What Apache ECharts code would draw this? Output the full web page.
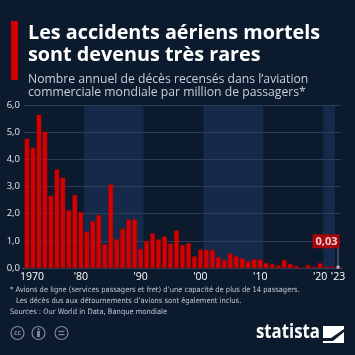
<!DOCTYPE html>
<html>
<head>
<meta charset="utf-8">
<script src="https://cdn.jsdelivr.net/npm/echarts@6/dist/echarts.min.js"></script>
<style>
html,body{margin:0;padding:0;background:#0c1a2e;}
#c{width:355px;height:355px;}
</style>
</head>
<body>
<div id="c"></div>
<script>
// Years shown (first bar sits at the start of the axis labelled 1970)
const years = ['1971','1972','1973','1974','1975','1976','1977','1978','1979','1980',
  '1981','1982','1983','1984','1985','1986','1987','1988','1989','1990',
  '1991','1992','1993','1994','1995','1996','1997','1998','1999','2000',
  '2001','2002','2003','2004','2005','2006','2007','2008','2009','2010',
  '2011','2012','2013','2014','2015','2016','2017','2018','2019','2020',
  '2021','2022','2023'];
// Deaths per million passengers
const deaths = [4.76,4.43,5.64,5.01,2.66,3.63,3.33,2.13,2.69,2.06,
  1.34,1.73,1.95,0.87,3.07,1.06,1.45,1.78,1.79,0.70,
  1.00,1.28,1.05,1.16,0.90,1.38,0.84,0.91,0.43,0.68,
  0.67,0.66,0.40,0.29,0.54,0.43,0.35,0.25,0.32,0.32,
  0.18,0.13,0.09,0.29,0.15,0.08,0.01,0.11,0.04,0.17,
  0.05,0.05,0.03];
const xTickLabels = {'1971':'1970','1980':"'80",'1990':"'90",'2000':"'00",'2010':"'10",'2020':"'20",'2023':"'23"};
const yMin = 0, yMax = 6, yStep = 1;

const fmt = v => v.toFixed(2).replace('.', ',');
const lastYear = years[years.length-1];
const lastVal = deaths[deaths.length-1];

const chart = echarts.init(document.getElementById('c'), null, {renderer:'canvas'});
const FONT = "'Open Sans', 'Noto Sans', sans-serif";
const NOTE_FONT = "'Liberation Sans Narrow', 'DejaVu Sans Condensed', 'Liberation Sans', sans-serif";
const noteColor = '#c3c8d0';
const ccColor = '#7f8898';

chart.setOption({
  backgroundColor: '#0c1a2e',
  animation: false,
  title: [
    {
      left: 23, top: 17,
      text: 'Les accidents aériens mortels\nsont devenus très rares',
      textStyle: {color:'#ffffff', fontFamily: FONT, fontWeight:'bold', fontSize:19.8, lineHeight:22}
    },
    {
      left: 23, top: 68,
      text: 'Nombre annuel de décès recensés dans l’aviation\ncommerciale mondiale par million de passagers*',
      textStyle: {color:'#c9ced6', fontFamily: FONT, fontWeight:'normal', fontSize:12.2, lineHeight:13}
    }
  ],
  grid: {left:24, right:14, top:105, bottom:87},
  xAxis: {
    type:'category', data: years,
    axisLine:{show:true, lineStyle:{color:'#c9cdd3', width:1}},
    axisTick:{show:false},
    axisLabel:{
      interval:0, color:'#ffffff', fontFamily: FONT, fontSize:10.5, margin:4,
      formatter: v => xTickLabels[v] ? (v === years[0] ? '{f|' + xTickLabels[v] + '}' : xTickLabels[v]) : '',
      rich:{f:{color:'#ffffff', fontFamily: FONT, fontSize:10.5, padding:[0,0,0,10]}}
    },
    splitLine:{show:false},
    splitArea:{show:true, interval:9, areaStyle:{color:['rgba(0,0,0,0)','#15294a']}}
  },
  yAxis: {
    type:'value', min:yMin, max:yMax, interval:yStep, z:1,
    axisLine:{show:false}, axisTick:{show:false},
    axisLabel:{color:'#e3e6eb', fontFamily: FONT, fontSize:9.5, margin:4,
      formatter: v => v.toFixed(1).replace('.', ',')},
    splitLine:{lineStyle:{color:'#2c3e57', width:1}}
  },
  series: [
    {
      type:'bar', data: deaths, barCategoryGap:'20%', z:2,
      itemStyle:{color:'#d60000', borderColor:'#a30000', borderWidth:0.4}
    },
    {
      type:'scatter', z:4,
      data:[[lastYear, lastVal]],
      symbol:'rect', symbolSize:[1,19], symbolOffset:[0,-9.5],
      itemStyle:{color:'#8c95a3'},
      label:{
        show:true, position:'top', distance:0, align:'right', offset:[1.5,0],
        formatter: p => fmt(p.value[1]),
        color:'#ffffff', fontFamily: FONT, fontWeight:'bold', fontSize:11,
        backgroundColor:'#cc0000', padding:[2,2,1,3], borderRadius:1
      }
    },
    {
      type:'scatter', z:5,
      data:[[lastYear, lastVal]],
      symbol:'rect', symbolSize:3,
      itemStyle:{color:'#d5d9de'}
    }
  ],
  graphic: [
    {type:'rect', left:11, top:21, shape:{width:7, height:59}, style:{fill:'#d20000'}},
    {type:'text', left:10, top:286.5, style:{text:'* Avions de ligne (services passagers et fret) d’une capacité de plus de 14 passagers.', fill:noteColor, font:'7.5px ' + NOTE_FONT}},
    {type:'text', left:16, top:297, style:{text:'Les décès dus aux détournements d’avions sont également inclus.', fill:noteColor, font:'7.5px ' + NOTE_FONT}},
    {type:'text', left:10, top:308.5, style:{text:'Sources : Our World in Data, Banque mondiale', fill:noteColor, font:'7.5px ' + NOTE_FONT}},
    // CC icons
    {type:'circle', shape:{cx:17.5, cy:333, r:6.5}, style:{fill:'none', stroke:ccColor, lineWidth:1.2}},
    {type:'text', x:17.5, y:333, style:{text:'cc', fill:ccColor, font:'bold 7px ' + FONT, align:'center', verticalAlign:'middle'}},
    {type:'circle', shape:{cx:38.5, cy:333, r:6.5}, style:{fill:'none', stroke:ccColor, lineWidth:1.2}},
    {type:'circle', shape:{cx:38.5, cy:329.3, r:1.1}, style:{fill:ccColor}},
    {type:'rect', shape:{x:37, y:331, width:3, height:6}, style:{fill:ccColor}},
    {type:'circle', shape:{cx:61.5, cy:333, r:6.5}, style:{fill:'none', stroke:ccColor, lineWidth:1.2}},
    {type:'rect', shape:{x:58.5, y:330.8, width:6, height:1.3}, style:{fill:ccColor}},
    {type:'rect', shape:{x:58.5, y:333.9, width:6, height:1.3}, style:{fill:ccColor}},
    // statista logo
    {type:'text', x:256, y:322, scaleX:0.86, style:{text:'statista', fill:'#ffffff', font:'bold 19.5px ' + FONT}},
    {type:'polygon', shape:{points:[[323,326],[344,326],[344,329],[331,338],[323,338]]}, style:{fill:'#ffffff'}},
    {type:'polygon', shape:{points:[[344,332],[344,343],[323,343],[323,341],[333,341]]}, style:{fill:'#ffffff'}}
  ]
});
</script>
</body>
</html>
